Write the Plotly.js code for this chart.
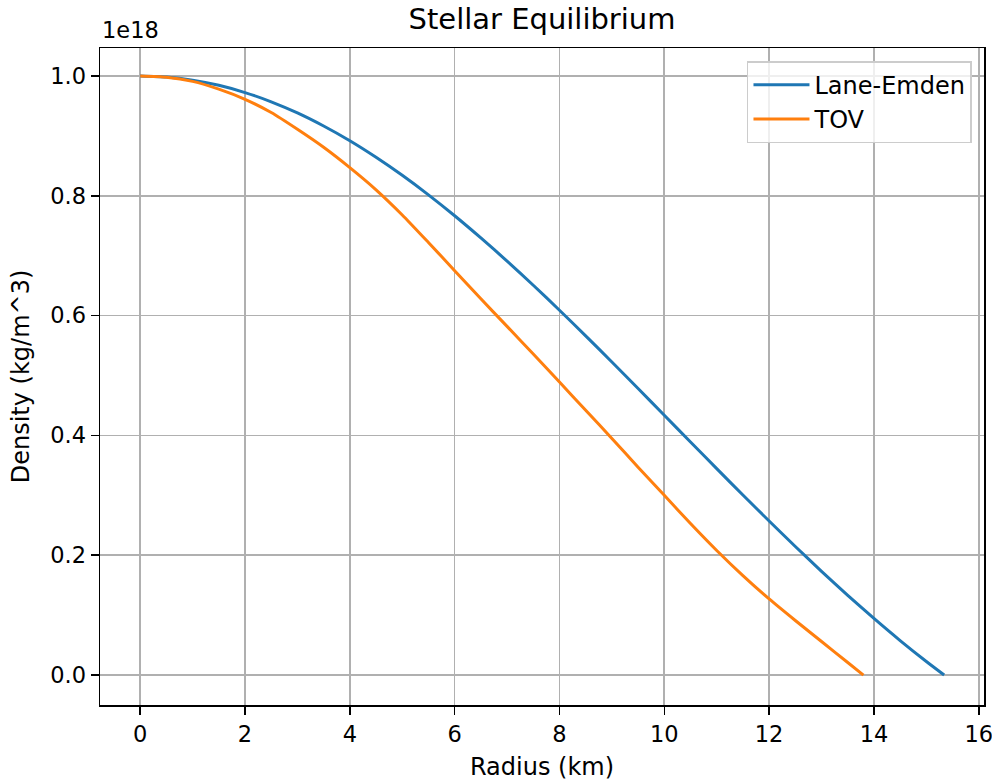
<!DOCTYPE html>
<html>
<head>
<meta charset="utf-8">
<script src="https://cdn.plot.ly/plotly-3.0.1.min.js"></script>
<style>
  html, body { margin: 0; padding: 0; background: #fff; }
  #chart { width: 992px; height: 784px; }
</style>
</head>
<body>
<div id="chart"></div>
<script>
// Radius (km) and density (in units of 1e18 kg/m^3)
const radiusLaneEmden = [0, 0.5, 1, 1.5, 2, 2.5, 3, 3.5, 4, 4.5, 5, 5.5, 6, 6.5, 7, 7.5, 8, 8.5, 9, 9.5, 10, 10.5, 11, 11.5, 12, 12.5, 13, 13.5, 14, 14.5, 15, 15.34];
const densityLaneEmden = [1.0, 0.9983, 0.9930, 0.9844, 0.9723, 0.9569, 0.9383, 0.9165, 0.8919, 0.8643, 0.8342, 0.8016, 0.7667, 0.7297, 0.6910, 0.6507, 0.6090, 0.5662, 0.5225, 0.4783, 0.4337, 0.3891, 0.3446, 0.3005, 0.2571, 0.2146, 0.1732, 0.1331, 0.0945, 0.0576, 0.0226, 0.0];

const radiusTOV = [0, 0.5, 1, 1.5, 2, 2.5, 3, 3.5, 4, 4.5, 5, 5.5, 6, 6.5, 7, 7.5, 8, 8.5, 9, 9.5, 10, 10.5, 11, 11.5, 12, 12.5, 13, 13.5, 13.8];
const densityTOV = [1.0, 0.998, 0.991, 0.978, 0.961, 0.939, 0.911, 0.881, 0.847, 0.810, 0.768, 0.722, 0.675, 0.628, 0.582, 0.536, 0.489, 0.442, 0.395, 0.347, 0.300, 0.253, 0.208, 0.166, 0.127, 0.091, 0.056, 0.021, 0.0];

const seriesNames = ['Lane-Emden', 'TOV'];
const seriesColors = ['#1f77b4', '#ff7f0e'];
const xTickVals = [0, 2, 4, 6, 8, 10, 12, 14, 16];
const yTickVals = [0.0, 0.2, 0.4, 0.6, 0.8, 1.0];

const FONT = 'DejaVu Sans, sans-serif';

const traces = [
  { x: radiusLaneEmden, y: densityLaneEmden, name: seriesNames[0], mode: 'lines',
    line: { color: seriesColors[0], width: 3, shape: 'spline', smoothing: 0.6 } },
  { x: radiusTOV, y: densityTOV, name: seriesNames[1], mode: 'lines',
    line: { color: seriesColors[1], width: 3, shape: 'spline', smoothing: 0.6 } }
];

const axisCommon = {
  showgrid: true, gridcolor: '#b0b0b0', gridwidth: 1.6,
  showline: true, mirror: true, linecolor: '#000', linewidth: 1.5,
  ticks: 'outside', ticklen: 8, tickwidth: 1.5, tickcolor: '#000',
  zeroline: false, ticklabeloverflow: 'allow',
  tickfont: { family: FONT, size: 22.5, color: '#000' }
};

const layout = {
  width: 992, height: 784,
  margin: { l: 100, r: 8, t: 48, b: 79 },
  paper_bgcolor: '#fff', plot_bgcolor: '#fff',
  font: { family: FONT, color: '#000' },
  title: { text: 'Stellar Equilibrium', font: { family: FONT, size: 29, color: '#000' },
           x: 0.5, xref: 'paper', y: 1 - 19 / 784, yref: 'container', yanchor: 'middle' },
  xaxis: Object.assign({}, axisCommon, {
    range: [-0.767, 16.1], tickvals: xTickVals, ticktext: xTickVals.map(String),
    title: { text: 'Radius (km)', font: { family: FONT, size: 24, color: '#000' }, standoff: 12 }
  }),
  yaxis: Object.assign({}, axisCommon, {
    range: [-0.05, 1.0467], tickvals: yTickVals, ticktext: yTickVals.map(v => v.toFixed(1)),
    title: { text: 'Density (kg/m^3)', font: { family: FONT, size: 24, color: '#000' }, standoff: 14 }
  }),
  legend: {
    x: 0.9864, y: 0.98, xanchor: 'right', yanchor: 'top',
    bgcolor: 'rgba(255,255,255,0.8)', bordercolor: '#cccccc', borderwidth: 1.5,
    font: { family: FONT, size: 24, color: '#000' },
    itemwidth: 56, tracegroupgap: 0
  },
  annotations: [{
    text: '1e18', xref: 'paper', yref: 'paper', x: 0, y: 1,
    xanchor: 'left', yanchor: 'bottom', yshift: 3, showarrow: false,
    font: { family: FONT, size: 22.5, color: '#000' }
  }],
  showlegend: true
};

Plotly.newPlot('chart', traces, layout, { displayModeBar: false, staticPlot: true });
</script>
</body>
</html>
